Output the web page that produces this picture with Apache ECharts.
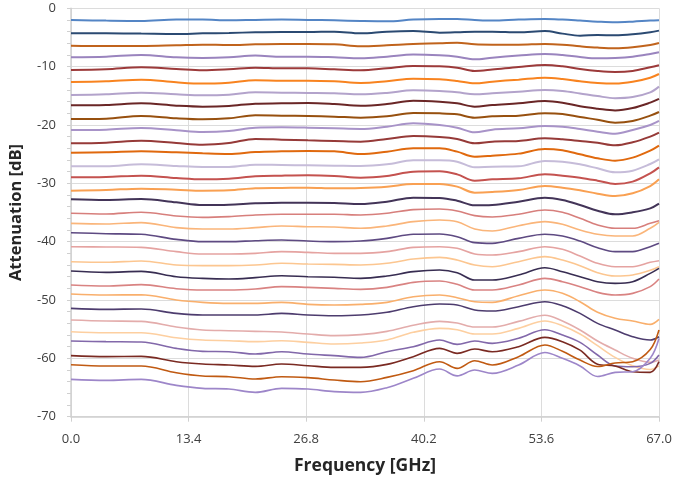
<!DOCTYPE html>
<html>
<head>
<meta charset="utf-8">
<script src="https://cdn.jsdelivr.net/npm/echarts@6/dist/echarts.min.js"></script>
<style>
html,body{margin:0;padding:0;background:#fff;}
#chart{width:676px;height:482px;}
</style>
</head>
<body>
<div id="chart"></div>
<script>
// Frequency points (GHz)
const freq = [0, 4, 8, 12, 15, 18, 21, 24, 27, 30, 33, 36, 39, 42, 44, 46, 48, 51, 54, 56, 58, 60, 62, 64, 66, 67];

// Axis tick labels
const xTicks = ['0.0', '13.4', '26.8', '40.2', '53.6', '67.0'];
const yTicks = [0, -10, -20, -30, -40, -50, -60, -70];

// Attenuation curves (dB), top to bottom
const att01 = [-2.0,-2.11,-2.17,-1.94,-1.94,-2.06,-2.0,-1.94,-2.0,-2.06,-2.17,-2.23,-1.94,-1.83,-1.83,-2.0,-2.11,-1.94,-1.83,-1.94,-2.11,-2.29,-2.4,-2.29,-2.11,-2.06];
const att02 = [-4.29,-4.29,-4.34,-4.4,-4.29,-4.23,-4.11,-4.06,-4.06,-4.0,-4.29,-4.0,-3.89,-4.17,-4.11,-4.0,-4.0,-4.11,-3.89,-4.34,-4.69,-4.57,-4.63,-4.46,-4.11,-3.83];
const att03 = [-6.4,-6.46,-6.46,-6.34,-6.23,-6.29,-6.17,-6.11,-6.11,-6.17,-6.51,-6.34,-6.11,-6.0,-5.89,-6.17,-6.23,-6.23,-6.11,-6.23,-6.51,-6.74,-6.86,-6.69,-6.29,-5.94];
const att04 = [-8.4,-8.29,-8.0,-8.4,-8.51,-8.4,-8.11,-8.29,-8.29,-8.4,-8.57,-8.29,-7.94,-8.06,-8.29,-8.74,-8.46,-8.11,-7.83,-8.0,-8.34,-8.57,-8.51,-8.29,-7.83,-7.54];
const att05 = [-10.57,-10.46,-10.11,-10.4,-10.63,-10.46,-10.17,-10.29,-10.29,-10.46,-10.63,-10.29,-9.89,-9.94,-10.17,-10.74,-10.51,-10.06,-9.71,-9.94,-10.4,-10.74,-10.91,-10.74,-10.11,-9.77];
const att06 = [-12.63,-12.51,-12.23,-12.69,-12.91,-12.74,-12.34,-12.4,-12.4,-12.51,-12.8,-12.51,-12.06,-12.17,-12.46,-12.86,-12.57,-12.23,-11.89,-12.11,-12.5,-12.8,-12.9,-12.6,-11.89,-11.26];
const att07 = [-14.86,-14.74,-14.46,-14.74,-14.91,-14.8,-14.4,-14.46,-14.51,-14.57,-14.74,-14.51,-14.06,-14.17,-14.4,-14.74,-14.57,-14.29,-14.0,-14.17,-14.6,-15.05,-15.4,-15.2,-14.4,-13.43];
const att08 = [-16.63,-16.57,-16.29,-16.69,-16.86,-16.74,-16.34,-16.29,-16.23,-16.4,-16.69,-16.4,-15.83,-16.0,-16.29,-16.86,-16.57,-16.29,-15.89,-16.17,-16.8,-17.2,-17.5,-17.1,-16.17,-15.54];
const att09 = [-18.97,-18.91,-18.46,-18.86,-19.03,-18.86,-18.34,-18.4,-18.46,-18.57,-18.74,-18.51,-17.94,-18.0,-18.17,-18.74,-18.51,-18.4,-18.0,-18.11,-18.63,-19.09,-19.6,-19.31,-18.4,-17.77];
const att10 = [-20.86,-20.8,-20.51,-20.91,-21.2,-21.03,-20.46,-20.4,-20.46,-20.57,-20.69,-20.29,-19.71,-20.0,-20.46,-21.26,-20.8,-20.57,-20.17,-20.29,-20.69,-21.14,-21.49,-20.86,-20.0,-19.31];
const att11 = [-23.14,-23.03,-22.69,-23.09,-23.37,-23.09,-22.4,-22.51,-22.63,-22.74,-22.86,-22.4,-21.89,-22.06,-22.4,-23.14,-22.86,-22.74,-22.29,-22.46,-22.74,-23.03,-23.49,-22.97,-22.0,-21.31];
const att12 = [-24.74,-24.69,-24.51,-24.69,-24.86,-24.97,-24.63,-24.51,-24.46,-24.51,-24.97,-24.57,-24.0,-24.0,-24.57,-25.43,-25.26,-24.91,-24.11,-24.34,-25.03,-25.71,-26.11,-25.6,-24.4,-23.54];
const att13 = [-27.09,-27.09,-26.74,-27.03,-27.2,-27.2,-26.8,-26.86,-26.91,-26.97,-27.03,-26.74,-26.06,-26.06,-26.29,-27.26,-27.14,-27.09,-26.17,-26.29,-26.74,-27.43,-28.11,-27.83,-26.69,-25.89];
const att14 = [-28.97,-28.91,-28.69,-29.09,-29.31,-29.2,-28.8,-28.69,-28.63,-28.74,-29.03,-28.74,-28.0,-27.94,-28.46,-29.54,-29.31,-29.14,-28.46,-28.69,-29.03,-29.54,-30.11,-29.71,-28.29,-27.26];
const att15 = [-31.26,-31.14,-30.91,-31.09,-31.26,-31.2,-30.86,-30.8,-30.74,-30.86,-30.8,-30.57,-30.11,-30.11,-30.57,-31.6,-31.49,-31.14,-30.46,-30.74,-31.2,-31.77,-32.17,-31.71,-30.46,-29.31];
const att16 = [-32.74,-32.86,-32.69,-33.26,-33.71,-33.66,-33.43,-33.31,-33.31,-33.37,-33.54,-33.14,-32.46,-32.51,-32.97,-33.77,-33.71,-33.14,-32.46,-32.86,-33.71,-34.69,-35.31,-34.97,-34.29,-33.49];
const att17 = [-35.14,-35.26,-34.97,-35.6,-35.83,-35.71,-35.43,-35.31,-35.31,-35.31,-35.43,-35.14,-34.51,-34.4,-34.74,-35.54,-35.77,-35.31,-34.57,-34.97,-36.0,-37.14,-37.71,-37.71,-36.86,-36.4];
const att18 = [-36.86,-36.97,-36.74,-37.6,-37.83,-37.83,-37.6,-37.31,-37.43,-37.49,-37.71,-37.31,-36.57,-36.29,-36.57,-37.83,-38.17,-37.26,-36.57,-37.03,-38.0,-38.74,-39.03,-39.03,-37.71,-36.69];
const att19 = [-38.46,-38.63,-38.74,-39.6,-40.0,-40.0,-39.83,-39.71,-39.89,-40.0,-39.89,-39.43,-38.74,-38.69,-39.14,-40.17,-40.29,-39.43,-38.74,-39.03,-39.89,-41.03,-41.71,-41.71,-40.86,-40.29];
const att20 = [-40.86,-40.91,-40.97,-41.71,-42.11,-42.11,-42.0,-41.71,-41.83,-42.0,-42.0,-41.71,-40.97,-40.86,-41.14,-42.11,-42.29,-41.71,-40.86,-41.31,-42.46,-43.71,-44.29,-44.29,-43.54,-43.26];
const att21 = [-43.43,-43.54,-43.31,-44.0,-44.11,-44.11,-44.0,-43.71,-43.83,-43.89,-44.0,-43.71,-42.97,-42.69,-43.14,-44.0,-44.29,-43.43,-42.57,-43.14,-44.11,-45.31,-45.89,-45.71,-44.91,-44.29];
const att22 = [-45.03,-45.26,-45.09,-46.0,-46.29,-46.4,-46.17,-45.83,-46.0,-46.11,-46.29,-45.89,-45.14,-44.86,-45.31,-46.57,-46.57,-45.71,-44.46,-45.14,-46.0,-46.86,-47.14,-46.86,-45.43,-44.57];
const att23 = [-47.43,-47.6,-47.37,-48.06,-48.29,-48.29,-48.11,-47.71,-47.83,-48.0,-48.17,-47.83,-46.97,-46.74,-47.31,-48.29,-48.29,-47.43,-46.29,-46.86,-47.71,-48.69,-49.14,-48.86,-47.71,-46.4];
const att24 = [-48.97,-49.14,-49.09,-50.0,-50.4,-50.57,-50.57,-50.4,-50.74,-50.86,-50.74,-50.4,-49.43,-49.14,-49.6,-50.29,-50.4,-49.26,-48.29,-48.86,-50.29,-52.11,-53.14,-53.6,-54.17,-53.31];
const att25 = [-51.43,-51.6,-51.54,-52.29,-52.57,-52.57,-52.57,-52.29,-52.57,-52.69,-52.57,-52.11,-51.14,-50.69,-50.86,-51.71,-51.89,-51.14,-50.29,-50.97,-52.29,-54.0,-55.14,-56.29,-56.86,-56.3];
const att26 = [-53.43,-53.6,-53.66,-54.63,-55.14,-55.26,-55.37,-55.49,-55.83,-56.11,-55.94,-55.37,-54.34,-53.66,-53.94,-54.63,-54.63,-53.66,-52.6,-53.6,-55.14,-57.03,-58.57,-60.0,-60.69,-60.29];
const att27 = [-55.43,-55.6,-55.6,-56.46,-56.86,-56.97,-57.14,-56.97,-57.26,-57.54,-57.37,-56.86,-55.54,-54.86,-55.09,-55.83,-55.83,-54.86,-53.6,-54.4,-55.83,-57.83,-59.83,-61.26,-61.9,-61.3];
const att28 = [-57.03,-57.14,-57.2,-58.29,-58.8,-58.86,-59.26,-58.86,-59.26,-59.54,-59.83,-58.86,-58.0,-56.86,-57.6,-57.03,-57.43,-56.57,-55.1,-56.0,-57.26,-59.43,-61.3,-61.43,-60.86,-59.43];
const att29 = [-59.54,-59.71,-59.66,-60.57,-60.97,-61.14,-61.37,-60.97,-61.26,-61.54,-61.54,-61.03,-59.71,-58.29,-59.14,-58.4,-58.86,-58.0,-56.4,-57.14,-58.6,-61.0,-61.3,-62.29,-62.4,-60.57];
const att30 = [-61.09,-61.31,-61.31,-62.46,-63.03,-63.14,-63.54,-63.14,-63.31,-63.71,-64.0,-63.26,-62.11,-60.57,-61.71,-60.4,-61.14,-59.71,-57.7,-58.8,-60.3,-61.4,-60.8,-60.57,-58.5,-55.14];
const att31 = [-63.6,-63.77,-63.6,-64.63,-65.14,-65.26,-65.83,-65.14,-65.26,-65.71,-65.83,-65.03,-63.43,-61.83,-63.0,-62.0,-62.57,-61.14,-59.0,-60.0,-61.3,-63.1,-62.4,-62.3,-60.0,-56.6];

const curves = [att01,att02,att03,att04,att05,att06,att07,att08,att09,att10,att11,att12,att13,att14,att15,att16,att17,att18,att19,att20,att21,att22,att23,att24,att25,att26,att27,att28,att29,att30,att31];

const colors = ['#5485c5','#2b4a72','#c0631c','#9a84be','#9c3a3a','#f8831f','#b3a3cb','#6a2626','#97500f','#a893c8',
  '#963a38','#e0690e','#c6bcd9','#c4524f','#f9a052','#433458','#d77f7c','#fab57a','#5e4a82','#e5a3a1',
  '#fcc690','#382d52','#d98382','#f9af6c','#4d3c6e','#e3acab','#fdcfa0','#8268aa','#7a2a22','#c05a12','#9d86c9'];

const chart = echarts.init(document.getElementById('chart'), null, {renderer: 'canvas'});
const fontFam = "'Open Sans', 'Liberation Sans', sans-serif";

const series = curves.map((vals, i) => ({
  type: 'line',
  name: 'c' + (i + 1),
  data: freq.map((f, k) => [f, vals[k]]),
  showSymbol: false,
  smooth: 0.35,
  lineStyle: {color: colors[i], width: i < 16 ? 2 : 1.6},
  emphasis: {disabled: true},
  z: 3
}));

chart.setOption({
  animation: false,
  backgroundColor: '#ffffff',
  grid: {left: 66.7, right: 17, top: 8.3, bottom: 65.3, containLabel: false},
  xAxis: {
    type: 'value', min: 0, max: 67, interval: 13.4,
    name: 'Frequency [GHz]', nameLocation: 'middle', nameGap: 40,
    nameTextStyle: {fontFamily: fontFam, fontWeight: 'bold', fontSize: 17.5, color: '#262626'},
    axisLine: {show: true, onZero: false, lineStyle: {color: '#d0d0d0', width: 1.5}},
    axisTick: {show: true, length: 5, lineStyle: {color: '#d0d0d0'}},
    axisLabel: {fontFamily: fontFam, fontSize: 13, color: '#404040', margin: 16,
      formatter: v => xTicks[Math.round(v / 13.4)] || ''},
    splitLine: {show: true, lineStyle: {color: '#dcdcdc', width: 1}}
  },
  yAxis: {
    type: 'value', min: -70, max: 0, interval: 10,
    name: 'Attenuation [dB]', nameLocation: 'middle', nameGap: 46, nameRotate: 90,
    nameTextStyle: {fontFamily: fontFam, fontWeight: 'bold', fontSize: 16.5, color: '#262626'},
    axisLine: {show: true, onZero: false, lineStyle: {color: '#d0d0d0', width: 1.5}},
    axisTick: {show: true, length: 4, lineStyle: {color: '#d0d0d0'}},
    minorTick: {show: true, splitNumber: 5, length: 4, lineStyle: {color: '#d0d0d0'}},
    axisLabel: {fontFamily: fontFam, fontSize: 13, color: '#404040', margin: 15,
      formatter: v => (yTicks.indexOf(v) >= 0 ? String(v) : '')},
    splitLine: {show: true, lineStyle: {color: '#dcdcdc', width: 1}}
  },
  series: series
});
</script>
</body>
</html>
